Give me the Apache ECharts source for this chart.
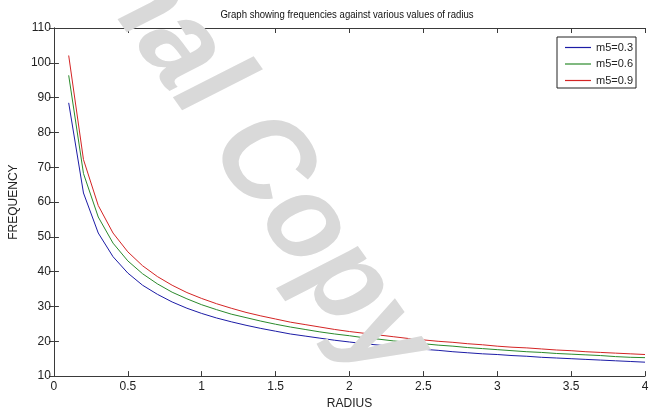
<!DOCTYPE html>
<html><head><meta charset="utf-8">
<script src="https://cdn.jsdelivr.net/npm/echarts@6/dist/echarts.min.js"></script>
<style>html,body{margin:0;padding:0;background:#fff}#c{width:657px;height:415px}</style>
</head><body><div id="c"></div>
<script>
const radius = [0.1,0.2,0.3,0.4,0.5,0.6,0.7,0.8,0.9,1.0,1.1,1.2,1.3,1.4,1.5,1.6,1.7,1.8,1.9,2.0,2.1,2.2,2.3,2.4,2.5,2.6,2.7,2.8,2.9,3.0,3.1,3.2,3.3,3.4,3.5,3.6,3.7,3.8,3.9,4.0];
const freqM03 = [88.5,62.6,51.1,44.3,39.6,36.1,33.5,31.3,29.5,28.0,26.7,25.6,24.6,23.7,22.9,22.1,21.5,20.9,20.3,19.8,19.3,18.9,18.5,18.1,17.7,17.4,17.0,16.7,16.4,16.2,15.9,15.7,15.4,15.2,15.0,14.8,14.6,14.4,14.2,14.0];
const freqM06 = [96.4,68.2,55.7,48.2,43.1,39.4,36.5,34.1,32.2,30.5,29.1,27.8,26.8,25.8,24.9,24.1,23.4,22.7,22.1,21.6,21.0,20.6,20.1,19.7,19.3,18.9,18.6,18.2,17.9,17.6,17.3,17.0,16.8,16.5,16.3,16.1,15.9,15.6,15.4,15.3];
const freqM09 = [102.1,72.2,59.0,51.1,45.7,41.7,38.6,36.1,34.0,32.3,30.8,29.5,28.3,27.3,26.4,25.5,24.8,24.1,23.4,22.8,22.3,21.8,21.3,20.8,20.4,20.0,19.7,19.3,19.0,18.6,18.3,18.1,17.8,17.5,17.3,17.0,16.8,16.6,16.4,16.2];
const seriesNames = ['m5=0.3','m5=0.6','m5=0.9'];
const seriesColors = ['#1c1ca6','#2b8a2b','#d42424'];
const titleText = 'Graph showing frequencies against various values of radius';
const xName = 'RADIUS', yName = 'FREQUENCY';
const watermarkA = 'Original ', watermarkB = 'Copy';

const FONT = '"Liberation Sans",Arial,sans-serif';
const chart = echarts.init(document.getElementById('c'), null, {renderer:'canvas'});
const pair = (xs, ys) => xs.map((x,i)=>[x, ys[i]]);
const axisLine = {show:true, lineStyle:{color:'#3a3a3a', width:1}};
const tick = {show:true, inside:true, length:5, lineStyle:{color:'#3a3a3a'}};
const lbl = {color:'#222', fontSize:12, fontFamily:FONT};
const wmStyle = {fontSize:130, fontWeight:'bold', fontFamily:FONT, fill:'#d9d9d9',
  verticalAlign:'bottom', textVerticalAlign:'bottom'};
const ROT = -1.03;
chart.setOption({
  animation:false,
  backgroundColor:'#fff',
  grid:{left:50, right:12, top:28, bottom:33, containLabel:false},
  legend:{orient:'vertical', right:21, top:37,
    data:seriesNames.map((n,i)=>({name:n, icon:'path://M0,0H26V1.2H0Z', itemStyle:{color:seriesColors[i], borderWidth:0}})),
    backgroundColor:'#fff', borderColor:'#222', borderWidth:1,
    padding:[5,3,2,8], itemGap:5.5, itemWidth:26, itemHeight:2,
    textStyle:{fontSize:11, color:'#222', fontFamily:FONT}},
  xAxis:[
    {type:'value', min:0, max:4, interval:0.5, position:'bottom',
     name:xName, nameLocation:'middle', nameGap:21,
     nameTextStyle:{fontSize:12, color:'#222', fontFamily:FONT},
     axisLine, axisTick:tick, splitLine:{show:false},
     axisLabel:{...lbl, margin:5, formatter:v=>String(v)}},
    {type:'value', min:0, max:4, interval:0.5, position:'top',
     axisLine, axisTick:tick, splitLine:{show:false}, axisLabel:{show:false}}
  ],
  yAxis:[
    {type:'value', min:10, max:110, interval:10, position:'left',
     name:yName, nameLocation:'middle', nameGap:18,
     nameTextStyle:{fontSize:12, color:'#222', fontFamily:FONT},
     axisLine, axisTick:tick, splitLine:{show:false},
     axisLabel:{...lbl, margin:3}},
    {type:'value', min:10, max:110, interval:10, position:'right',
     axisLine, axisTick:tick, splitLine:{show:false}, axisLabel:{show:false}}
  ],
  series:[freqM03,freqM06,freqM09].map((d,i)=>({
    name:seriesNames[i], type:'line', data:pair(radius,d), symbol:'none',
    color:seriesColors[i], lineStyle:{width:1, color:seriesColors[i]}, z:2
  })),
  graphic:[
    {type:'text', x:347, y:15, scaleX:0.87, z:50, silent:true,
     style:{text:titleText, fontSize:11, fontFamily:FONT, fill:'#111',
       align:'center', verticalAlign:'middle', textAlign:'center', textVerticalAlign:'middle'}},
    {type:'group', x:268, y:158, scaleY:0.85, z:100, silent:true, children:[
      {type:'text', x:-87.6, y:-2.2, rotation:ROT, z:100,
       style:{...wmStyle, text:watermarkB, align:'left', textAlign:'left'}},
      {type:'text', x:-87.6, y:-2.2, rotation:ROT, z:100,
       style:{...wmStyle, text:watermarkA, align:'right', textAlign:'right'}}
    ]}
  ]
});
</script></body></html>
